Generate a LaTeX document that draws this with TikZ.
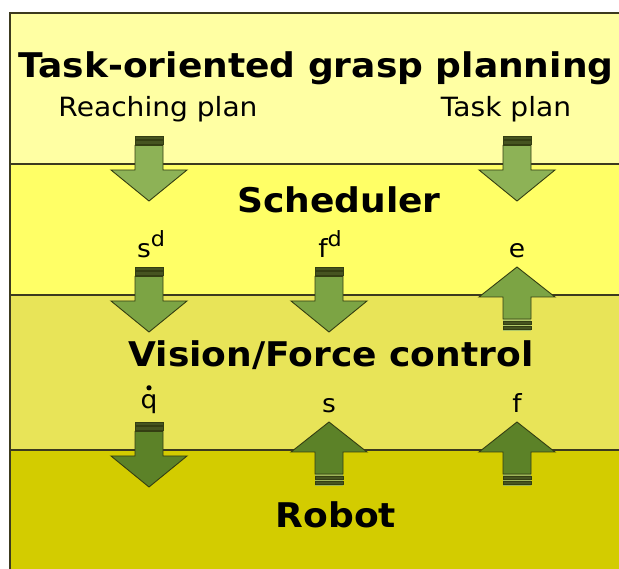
\documentclass[tikz,border=0pt]{standalone}
\usepackage{fontspec}
\setmainfont[FakeStretch=1.06]{DejaVu Sans}
\definecolor{bandA}{RGB}{255,255,163}
\definecolor{bandB}{RGB}{255,255,102}
\definecolor{bandC}{RGB}{232,228,88}
\definecolor{bandD}{RGB}{211,204,0}
\definecolor{arrA}{RGB}{141,178,86}
\definecolor{arrB}{RGB}{124,164,68}
\definecolor{arrC}{RGB}{92,130,40}
\definecolor{edge}{RGB}{52,62,18}
\definecolor{stripe}{RGB}{70,84,32}
\definecolor{frameline}{RGB}{60,58,30}
\tikzset{
  frame/.style={draw=frameline, line width=1.2pt},
  arrowedge/.style={draw=edge, line width=0.9pt, line join=miter},
  stripebar/.style={draw=edge, line width=0.4pt, fill=stripe},
  layertitle/.style={font=\fontsize{34}{40}\selectfont\bfseries, anchor=base, inner sep=0pt},
  plantext/.style={font=\fontsize{26.5}{30}\selectfont, anchor=base, inner sep=0pt},
  signal/.style={font=\fontsize{25}{30}\selectfont, anchor=base, inner sep=0pt},
}
% block arrow pointing down through the layer boundary at height #3
\newcommand\blockdown[4]{%
  \coordinate (#1) at (#2,#3);
  \fill[#4!60!bandA] (#2-14,#3-28) rectangle (#2+14,#3-18);
  \filldraw[stripebar] (#2-14,#3-28) rectangle (#2+14,#3-24.6);
  \filldraw[stripebar] (#2-14,#3-23.4) rectangle (#2+14,#3-20);
  \filldraw[arrowedge, fill=#4] (#2-14,#3-18.6) -- (#2+14,#3-18.6) -- (#2+14,#3+6)
    -- (#2+38,#3+6) -- (#2,#3+37) -- (#2-38,#3+6) -- (#2-14,#3+6) -- cycle;
}
% block arrow pointing up through the layer boundary at height #3
\newcommand\blockup[4]{%
  \coordinate (#1) at (#2,#3);
  \fill[#4!60!bandA] (#2-14,#3+24) rectangle (#2+14,#3+36);
  \filldraw[arrowedge, fill=#4] (#2,#3-28) -- (#2+38,#3+2) -- (#2+14,#3+2)
    -- (#2+14,#3+24) -- (#2-14,#3+24) -- (#2-14,#3+2) -- (#2-38,#3+2) -- cycle;
  \filldraw[stripebar] (#2-14,#3+26) rectangle (#2+14,#3+29.6);
  \filldraw[stripebar] (#2-14,#3+31) rectangle (#2+14,#3+34.6);
}
\begin{document}
\begin{tikzpicture}[x=1pt,y=-1pt]
\useasboundingbox (0,0) rectangle (619,569);
\fill[white] (0,0) rectangle (619,569);
% layers
\fill[bandA] (10,13) rectangle (619,164);
\fill[bandB] (10,164) rectangle (619,295);
\fill[bandC] (10,295) rectangle (619,450);
\fill[bandD] (10,450) rectangle (619,569);
\draw[frame] (619,13) -- (10,13) -- (10,569);
\draw[frame] (10,164) -- (619,164);
\draw[frame] (10,295) -- (619,295);
\draw[frame] (10,450) -- (619,450);
% layer titles
\node[layertitle] (planning) at (316,78) {Task-oriented grasp planning};
\node[plantext] (reach) at (158,117) {Reaching plan};
\node[plantext] (taskplan) at (506,117) {Task plan};
\node[layertitle] (sched) at (339,213) {Scheduler};
\node[layertitle] (ctrl) at (331,367) {Vision/Force control};
\node[layertitle] (robot) at (336,527) {Robot};
% signals between layers
\node[signal] (sd) at (151,258) {s\raisebox{0.45em}{\fontsize{21}{24}\selectfont d}};
\node[signal] (fd) at (330,258) {f\raisebox{0.45em}{\fontsize{21}{24}\selectfont d}};
\node[signal] (e) at (517,258) {e};
\node[signal] (qd) at (149,409) {q};
\fill (qd.north) ++(0,-7) circle (2.6pt);
\node[signal] (s) at (329,413) {s};
\node[signal] (f) at (517,413) {f};
% block arrows
\blockdown{reachArrow}{149}{164}{arrA}
\blockdown{taskArrow}{517}{164}{arrA}
\blockdown{sdArrow}{149}{295}{arrB}
\blockdown{fdArrow}{329}{295}{arrB}
\blockup{eArrow}{517}{295}{arrB}
\blockdown{qdArrow}{149}{450}{arrC}
\blockup{sArrow}{329}{450}{arrC}
\blockup{fArrow}{517}{450}{arrC}
\end{tikzpicture}
\end{document}
